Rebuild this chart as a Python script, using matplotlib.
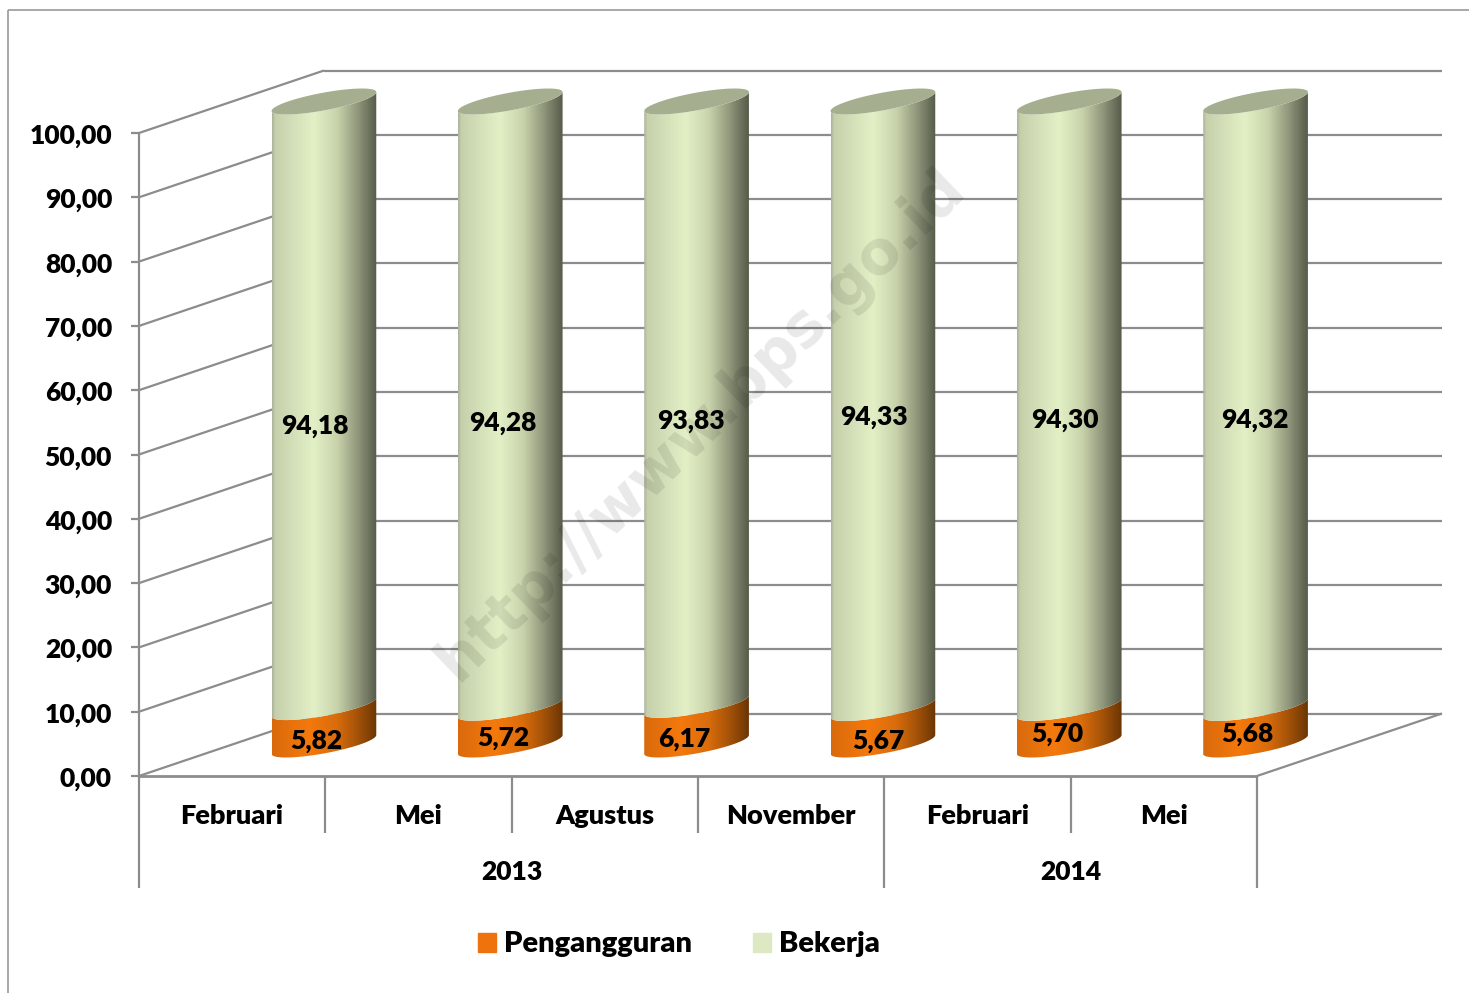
import numpy as np
import matplotlib
matplotlib.use('Agg')
import matplotlib.pyplot as plt
from matplotlib.colors import LinearSegmentedColormap
from matplotlib.patches import Polygon, Patch

plt.rcParams['font.family'] = ['Lato', 'DejaVu Sans']
plt.rcParams['font.weight'] = 'heavy'

months = ['Februari', 'Mei', 'Agustus', 'November', 'Februari', 'Mei']
years = ['2013', '2014']
year_spans = [(0, 4), (4, 6)]
penganggur = [5.82, 5.72, 6.17, 5.67, 5.70, 5.68]
bekerja = [94.18, 94.28, 93.83, 94.33, 94.30, 94.32]
yticks = [0, 10, 20, 30, 40, 50, 60, 70, 80, 90, 100]

# hand placed data labels, shift from bar centre in pixels
top_shift = [(-9, -22), (-7, -18), (-6, -18), (-9, -12), (-4, -15), (-1, -15)]
low_shift = [(-8, -15), (-7, -12), (-12, -14), (-5, -15), (-12, -8), (-8, -8)]

W, H = 1469, 993
PX_X = 186.33  # pixels per category
PX_Y = 6.43    # pixels per value unit
X0, Y0 = 139, 776
DEPTH_X = 185 / PX_X
DEPTH_Y = 62.5 / PX_Y
GRID = '#8c8c8c'
TXT_DOWN = 1.5 / PX_Y

fig = plt.figure(figsize=(W / 100, H / 100), dpi=100)
ax = fig.add_axes([0, 0, 1, 1])
ax.axis('off')
xlim = (-X0 / PX_X, (W - X0) / PX_X)
ylim = ((Y0 - H) / PX_Y, Y0 / PX_Y)


def line(xs, ys, lw=1.6, color=GRID, z=1):
    ax.plot(xs, ys, color=color, lw=lw, zorder=z, solid_capstyle='butt')


# chart frame
line([xlim[0] + 8 / PX_X] * 2, [ylim[0], ylim[1] - 10 / PX_Y], lw=1.2, color='#9a9a9a')
line([xlim[0] + 8 / PX_X, xlim[1]], [ylim[1] - 10 / PX_Y] * 2, lw=1.2, color='#9a9a9a')

# walls and floor
n = len(months)
for v in yticks:
    line([0, DEPTH_X], [v, v + DEPTH_Y])
    line([DEPTH_X, n + DEPTH_X], [v + DEPTH_Y] * 2)
    line([-8 / PX_X, 0], [v, v])
line([0, 0], [0, 100])
line([0, n], [0, 0], lw=2)
line([n, n + DEPTH_X], [0, DEPTH_Y])

# category axis
for i in range(1, n):
    if i != 4:
        line([i, i], [0, -57 / PX_Y])
for i in [0, 4, 6]:
    line([i, i], [0, -112 / PX_Y])
for i, m in enumerate(months):
    ax.text(i + 0.5, -38 / PX_Y - TXT_DOWN, m, ha='center', va='center', fontsize=19.5)
for y, (a, b) in zip(years, year_spans):
    ax.text((a + b) / 2, -94 / PX_Y - TXT_DOWN, y, ha='center', va='center', fontsize=19)
for v in yticks:
    ax.text(-27 / PX_X, v - 2 * TXT_DOWN, f'{v:.2f}'.replace('.', ','), ha='right', va='center', fontsize=19)

green_map = LinearSegmentedColormap.from_list('green', [
    (0, '#aab29c'), (0.03, '#c6d1ac'), (0.4, '#e3f0c6'), (0.62, '#c8d3ab'),
    (0.82, '#8f967b'), (1, '#565b4a')])
orange_map = LinearSegmentedColormap.from_list('orange', [
    (0, '#d96a0c'), (0.35, '#f5790c'), (0.62, '#d96c0c'),
    (0.82, '#a35208'), (1, '#6a3505')])

U = 36 / PX_X
VX, VY = 38 / PX_X, 13 / PX_Y
T0 = np.arctan2(VX * PX_X, U * PX_X)
HALF_W = np.hypot(U * PX_X, VX * PX_X) / PX_X
BASE = 31.5 / PX_Y


def arc(cx, cy, t1, t2):
    t = np.linspace(t1, t2, 60)
    return np.column_stack([cx + U * np.cos(t) + VX * np.sin(t), cy + VY * np.sin(t)])


def body(cx, low, high, cmap, z):
    front = (T0 + np.pi, T0 + 2 * np.pi)
    pts = np.vstack([arc(cx, low, *front), arc(cx, high, *front)[::-1]])
    im = ax.imshow(np.linspace(0, 1, 256).reshape(1, -1), cmap=cmap, aspect='auto',
                   extent=(cx - HALF_W, cx + HALF_W, low - 3, high + 3), zorder=z,
                   interpolation='bilinear')
    im.set_clip_path(Polygon(pts, transform=ax.transData))


for i in range(n):
    cx = i + 0.5 + (DEPTH_X - 1.5 / PX_X) / 2
    mid = BASE + penganggur[i]
    top = mid + bekerja[i]
    body(cx, BASE, mid, orange_map, 3)
    body(cx, mid, top, green_map, 4)
    t = np.linspace(0, 2 * np.pi, 120)
    ax.fill(cx + U * np.cos(t) + VX * np.sin(t), top + VY * np.sin(t), color='#a5af90', zorder=5, lw=0)
    ax.annotate(f'{penganggur[i]:.2f}'.replace('.', ','), (cx, (BASE + mid) / 2), xytext=low_shift[i],
                textcoords='offset pixels', ha='center', va='center', fontsize=19, color='black', zorder=8)
    ax.annotate(f'{bekerja[i]:.2f}'.replace('.', ','), (cx, (mid + top) / 2), xytext=top_shift[i],
                textcoords='offset pixels', ha='center', va='center', fontsize=19, color='black', zorder=8)

# watermark
ax.text(0.477, 0.572, 'http://www.bps.go.id', transform=ax.transAxes, rotation=44,
        rotation_mode='anchor', ha='center', va='center', fontsize=43, color='black', alpha=0.09,
        family='DejaVu Sans', weight='bold', zorder=7)

ax.legend(handles=[Patch(color='#ee730c', label='Pengangguran'), Patch(color='#dde9c3', label='Bekerja')],
          loc='center', bbox_to_anchor=(0.462, 0.049), ncol=2, frameon=False, fontsize=21,
          handlelength=0.62, handleheight=0.62, handletextpad=0.27, columnspacing=2.1)

ax.set_xlim(xlim)
ax.set_ylim(ylim)
fig.savefig('out.png', dpi=100, facecolor='white')
